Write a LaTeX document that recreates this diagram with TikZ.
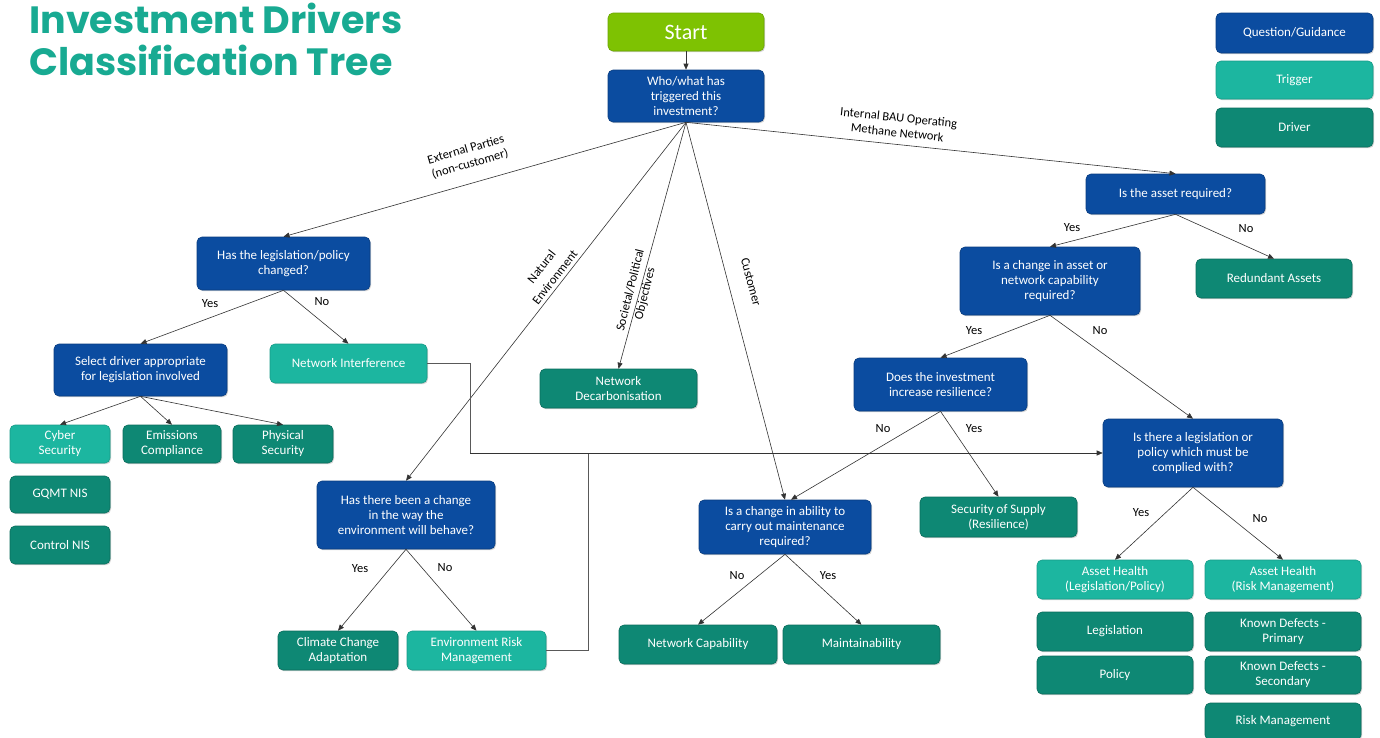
\documentclass[tikz,border=0pt]{standalone}
\usepackage{fontspec}
\setmainfont{Carlito}
\newfontfamily\titlefont{Poppins}
\usetikzlibrary{arrows.meta,shadows}
\definecolor{qblue}{RGB}{11,76,160}
\definecolor{trig}{RGB}{28,182,160}
\definecolor{drv}{RGB}{14,136,116}
\definecolor{startg}{RGB}{126,194,2}
\definecolor{titlec}{RGB}{24,170,146}
\begin{document}
\begin{tikzpicture}[x=1pt,y=-1pt,
  bx/.style={rounded corners=5pt, align=center, text=white, inner sep=1pt,
    font=\fontsize{13}{15}\selectfont, line width=0.6pt,
    drop shadow={opacity=0.35, shadow xshift=1pt, shadow yshift=-1.2pt}},
  qbox/.style={bx, fill=qblue, draw=qblue!80!black},
  tbox/.style={bx, fill=trig, draw=trig!85!black},
  dbox/.style={bx, fill=drv, draw=drv!80!black},
  sbox/.style={bx, fill=startg, draw=startg!85!black, font=\fontsize{22}{24}\selectfont},
  arr/.style={-{Triangle[length=6pt,width=5pt]}, draw=black!80, line width=0.6pt},
  ln/.style={draw=black!65, line width=0.7pt},
  lbl/.style={font=\fontsize{12.5}{15}\selectfont, text=black, inner sep=1pt, align=center}]
\useasboundingbox[fill=white] (0,0) rectangle (1380,737);

% title
\node[anchor=north west, inner sep=0pt, align=left, text=titlec,
  font=\titlefont\bfseries\fontsize{38}{42}\selectfont] (title) at (29,3)
  {Investment Drivers\\Classification Tree};

% legend
\node[qbox, minimum width=157, minimum height=40] (legq) at (1294.5,33) {Question/Guidance};
\node[tbox, minimum width=157, minimum height=38] (legt) at (1294.5,80) {Trigger};
\node[dbox, minimum width=157, minimum height=39] (legd) at (1294.5,127.5) {Driver};

% main nodes
\node[sbox, minimum width=156, minimum height=38] (start) at (686,32) {Start};
\node[qbox, minimum width=156, minimum height=52] (who) at (686,96) {Who/what has\\triggered this\\investment?};

\node[qbox, minimum width=173, minimum height=53] (leg) at (283.5,263.5) {Has the legislation/policy\\changed?};
\node[qbox, minimum width=173, minimum height=52] (sel) at (140.5,370) {Select driver appropriate\\for legislation involved};
\node[tbox, minimum width=157, minimum height=39] (ni) at (348.5,363.5) {Network Interference};
\node[tbox, minimum width=100, minimum height=38] (cyber) at (60,444) {Cyber\\Security};
\node[dbox, minimum width=98, minimum height=38] (emis) at (172,444) {Emissions\\Compliance};
\node[dbox, minimum width=100, minimum height=38] (phys) at (283,444) {Physical\\Security};
\node[dbox, minimum width=100, minimum height=37] (gqmt) at (60,494.5) {GQMT NIS};
\node[dbox, minimum width=100, minimum height=38] (ctrl) at (60,545) {Control NIS};

\node[dbox, minimum width=157, minimum height=39] (decarb) at (618.5,388.5) {Network\\Decarbonisation};

\node[qbox, minimum width=178, minimum height=68] (env) at (406,515) {Has there been a change\\in the way the\\environment will behave?};
\node[dbox, minimum width=120, minimum height=39] (climate) at (338,650.5) {Climate Change\\Adaptation};
\node[tbox, minimum width=139, minimum height=39] (erm) at (476.5,650.5) {Environment Risk\\Management};

\node[qbox, minimum width=179, minimum height=40] (asset) at (1175.5,194) {Is the asset required?};
\node[dbox, minimum width=156, minimum height=39] (redund) at (1274,278.5) {Redundant Assets};
\node[qbox, minimum width=180, minimum height=68] (chg) at (1050,281) {Is a change in asset or\\network capability\\required?};
\node[qbox, minimum width=173, minimum height=53] (res) at (940.5,384.5) {Does the investment\\increase resilience?};
\node[qbox, minimum width=180, minimum height=68] (legis) at (1193,453) {Is there a legislation or\\policy which must be\\complied with?};
\node[dbox, minimum width=157, minimum height=40] (sos) at (998.5,517) {Security of Supply\\(Resilience)};
\node[qbox, minimum width=172, minimum height=54] (abil) at (785,527) {Is a change in ability to\\carry out maintenance\\required?};
\node[dbox, minimum width=158, minimum height=39] (netcap) at (698,644.5) {Network Capability};
\node[dbox, minimum width=157, minimum height=39] (maint) at (861.5,644.5) {Maintainability};

\node[tbox, minimum width=156, minimum height=39] (ahlp) at (1115,579.5) {Asset Health\\(Legislation/Policy)};
\node[tbox, minimum width=156, minimum height=39] (ahrm) at (1283,579.5) {Asset Health\\(Risk Management)};
\node[dbox, minimum width=156, minimum height=39] (legn) at (1115,631.5) {Legislation};
\node[dbox, minimum width=156, minimum height=38] (pol) at (1115,675) {Policy};
\node[dbox, minimum width=156, minimum height=39] (kdp) at (1283,631.5) {Known Defects -\\Primary};
\node[dbox, minimum width=156, minimum height=38] (kds) at (1283,675) {Known Defects -\\Secondary};
\node[dbox, minimum width=156, minimum height=37] (rm) at (1283,721.5) {Risk Management};

% connectors from start / who
\draw[arr] (start.south) -- (who.north);
\draw[arr] (who.south) -- (leg.north);
\draw[arr] (who.south) -- (env.north);
\draw[arr] (who.south) -- (decarb.north);
\draw[arr] (who.south) -- (abil.north);
\draw[arr] (who.south) -- (asset.north);

\node[lbl, rotate=16] (lext) at (468,157) {External Parties\\(non-customer)};
\node[lbl, rotate=52, font=\fontsize{12.5}{17}\selectfont] (lnat) at (548,272) {Natural\\Environment};
\node[lbl, rotate=76] (lsoc) at (638,292) {Societal/Political\\Objectives};
\node[lbl, rotate=-75] (lcus) at (751,282) {Customer};
\node[lbl, rotate=-6] (lint) at (898,125) {Internal BAU Operating\\Methane Network};

% legislation branch
\draw[arr] (leg.south) -- (sel.north);
\draw[arr] (leg.south) -- (ni.north);
\node[lbl] (y1) at (210,304) {Yes};
\node[lbl] (n1) at (322,302) {No};
\draw[arr] (sel.south) -- (cyber.north);
\draw[arr] (sel.south) -- (emis.north);
\draw[arr] (sel.south) -- (phys.north);

% environment branch
\draw[arr] (env.south) -- (climate.north);
\draw[arr] (env.south) -- (erm.north);
\node[lbl] (y2) at (360,569) {Yes};
\node[lbl] (n2) at (445,568) {No};

% loops to legislation question
\coordinate (j1) at (470,453);
\coordinate (j2) at (588,453);
\draw[ln] (ni.east) -| (j1);
\draw[ln] (erm.east) -| (j2);
\draw[arr] (j1) -- (legis.west);

% internal branch
\draw[arr] (asset.south) -- (chg.north);
\draw[arr] (asset.south) -- (redund.north);
\node[lbl] (y3) at (1072,228) {Yes};
\node[lbl] (n3) at (1246,229) {No};
\draw[arr] (chg.south) -- (res.north);
\draw[arr] (chg.south) -- (legis.north);
\node[lbl] (y4) at (974,331) {Yes};
\node[lbl] (n4) at (1100,331) {No};
\draw[arr] (res.south) -- ([xshift=6pt]abil.north);
\draw[arr] (res.south) -- (sos.north);
\node[lbl] (n5) at (883,429) {No};
\node[lbl] (y5) at (974,429) {Yes};
\draw[arr] (abil.south) -- (netcap.north);
\draw[arr] (abil.south) -- (maint.north);
\node[lbl] (n6) at (737,576) {No};
\node[lbl] (y6) at (828,576) {Yes};
\draw[arr] (legis.south) -- (ahlp.north);
\draw[arr] (legis.south) -- (ahrm.north);
\node[lbl] (y7) at (1141,513) {Yes};
\node[lbl] (n7) at (1260,519) {No};
\end{tikzpicture}
\end{document}
